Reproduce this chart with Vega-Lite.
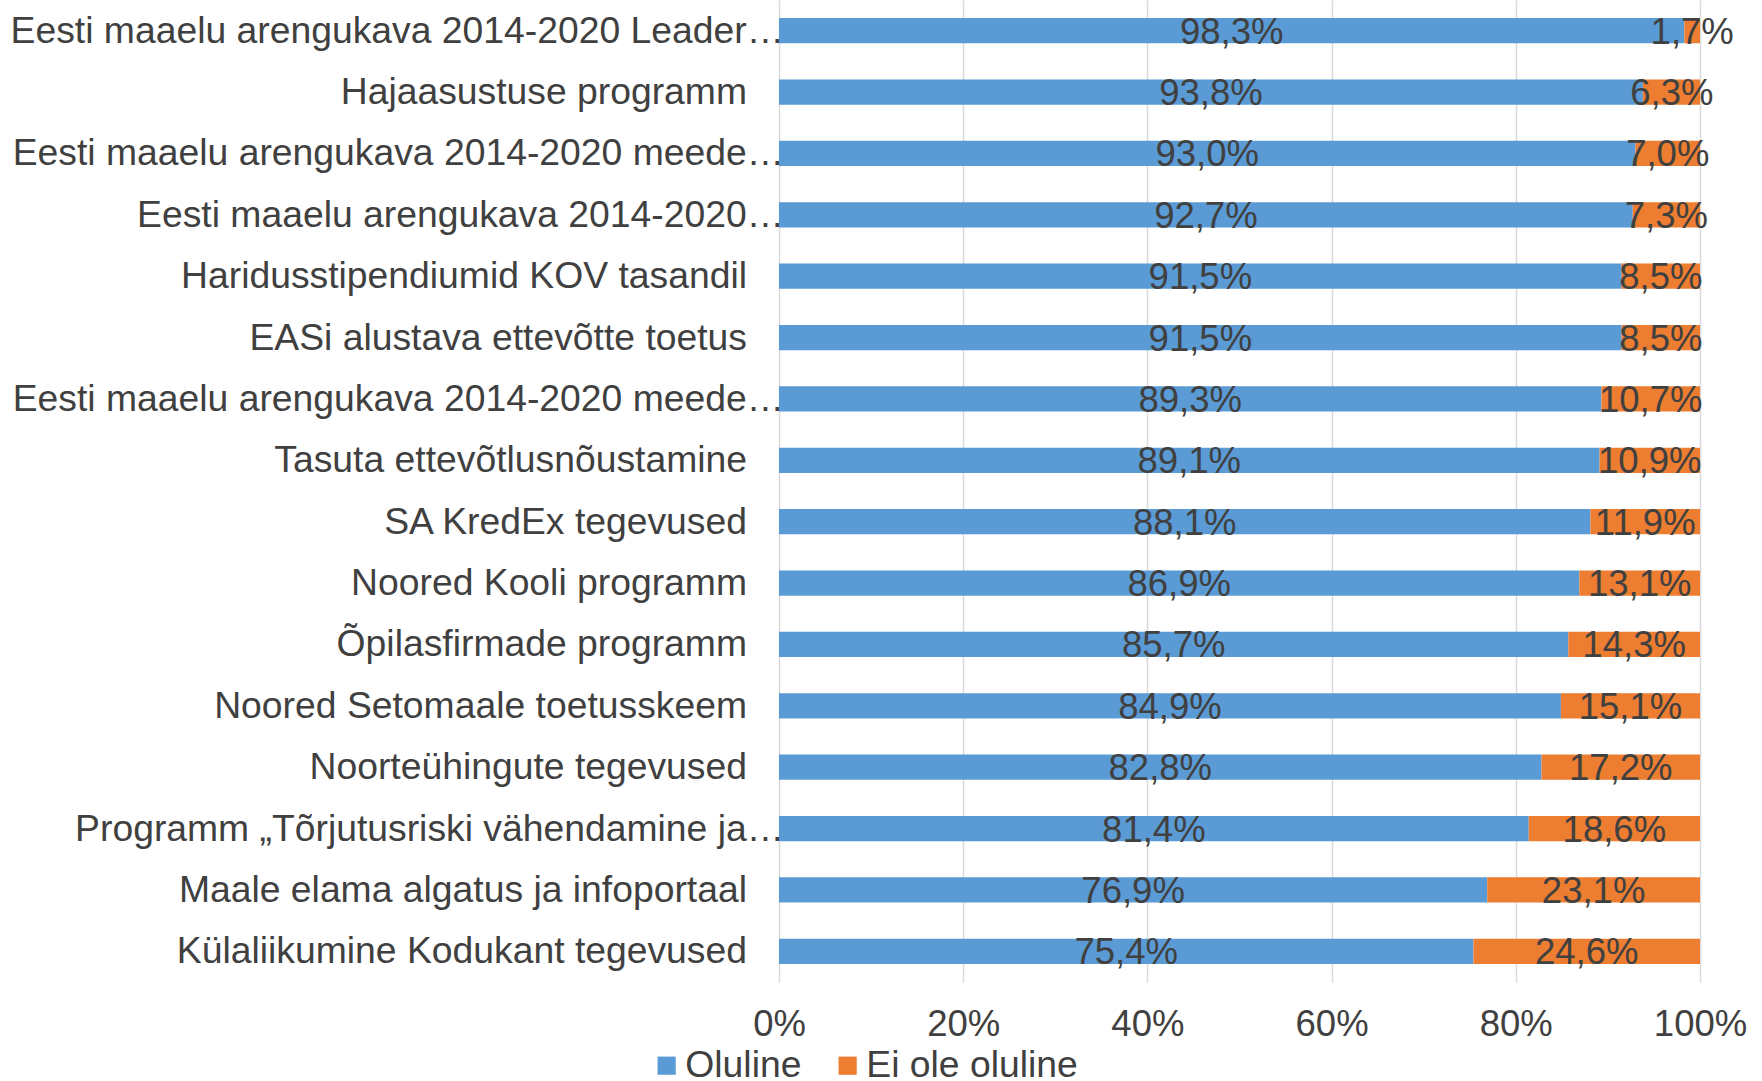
{
  "$schema": "https://vega.github.io/schema/vega-lite/v6.json",
  "autosize": "none",
  "width": 921,
  "height": 982,
  "padding": {"left": 779, "top": 0, "right": 62, "bottom": 99},
  "background": "white",
  "config": {
    "locale": {"number": {"decimal": ",", "thousands": " ", "grouping": [3], "currency": ["", " €"]}},
    "font": "Liberation Sans",
    "view": {"stroke": null},
    "axis": {"labelFont": "Liberation Sans", "labelColor": "#404040", "labelFontSize": 36.5}
  },
  "data": {
    "values": [
      {"label": "Eesti maaelu arengukava 2014-2020 Leader…", "series": "Oluline", "value": 0.983},
      {"label": "Eesti maaelu arengukava 2014-2020 Leader…", "series": "Ei ole oluline", "value": 0.017},
      {"label": "Hajaasustuse programm", "series": "Oluline", "value": 0.938},
      {"label": "Hajaasustuse programm", "series": "Ei ole oluline", "value": 0.063},
      {"label": "Eesti maaelu arengukava 2014-2020 meede…", "series": "Oluline", "value": 0.930},
      {"label": "Eesti maaelu arengukava 2014-2020 meede…", "series": "Ei ole oluline", "value": 0.070},
      {"label": "Eesti maaelu arengukava 2014-2020…", "series": "Oluline", "value": 0.927},
      {"label": "Eesti maaelu arengukava 2014-2020…", "series": "Ei ole oluline", "value": 0.073},
      {"label": "Haridusstipendiumid KOV tasandil", "series": "Oluline", "value": 0.915},
      {"label": "Haridusstipendiumid KOV tasandil", "series": "Ei ole oluline", "value": 0.085},
      {"label": "EASi alustava ettevõtte toetus", "series": "Oluline", "value": 0.915},
      {"label": "EASi alustava ettevõtte toetus", "series": "Ei ole oluline", "value": 0.085},
      {"label": "Eesti maaelu arengukava 2014-2020 meede…\u200b", "series": "Oluline", "value": 0.893},
      {"label": "Eesti maaelu arengukava 2014-2020 meede…\u200b", "series": "Ei ole oluline", "value": 0.107},
      {"label": "Tasuta ettevõtlusnõustamine", "series": "Oluline", "value": 0.891},
      {"label": "Tasuta ettevõtlusnõustamine", "series": "Ei ole oluline", "value": 0.109},
      {"label": "SA KredEx tegevused", "series": "Oluline", "value": 0.881},
      {"label": "SA KredEx tegevused", "series": "Ei ole oluline", "value": 0.119},
      {"label": "Noored Kooli programm", "series": "Oluline", "value": 0.869},
      {"label": "Noored Kooli programm", "series": "Ei ole oluline", "value": 0.131},
      {"label": "Õpilasfirmade programm", "series": "Oluline", "value": 0.857},
      {"label": "Õpilasfirmade programm", "series": "Ei ole oluline", "value": 0.143},
      {"label": "Noored Setomaale toetusskeem", "series": "Oluline", "value": 0.849},
      {"label": "Noored Setomaale toetusskeem", "series": "Ei ole oluline", "value": 0.151},
      {"label": "Noorteühingute tegevused", "series": "Oluline", "value": 0.828},
      {"label": "Noorteühingute tegevused", "series": "Ei ole oluline", "value": 0.172},
      {"label": "Programm „Tõrjutusriski vähendamine ja…", "series": "Oluline", "value": 0.814},
      {"label": "Programm „Tõrjutusriski vähendamine ja…", "series": "Ei ole oluline", "value": 0.186},
      {"label": "Maale elama algatus ja infoportaal", "series": "Oluline", "value": 0.769},
      {"label": "Maale elama algatus ja infoportaal", "series": "Ei ole oluline", "value": 0.231},
      {"label": "Külaliikumine Kodukant tegevused", "series": "Oluline", "value": 0.754},
      {"label": "Külaliikumine Kodukant tegevused", "series": "Ei ole oluline", "value": 0.246}
    ]
  },
  "transform": [
    {"stack": "value", "groupby": ["label"], "sort": [{"field": "series", "order": "descending"}], "as": ["v0", "v1"]},
    {"calculate": "(datum.v0 + datum.v1) / 2", "as": "mid"}
  ],
  "encoding": {
    "y": {
      "field": "label",
      "type": "nominal",
      "sort": null,
      "scale": {"paddingInner": 0.59, "paddingOuter": 0.295},
      "axis": null
    }
  },
  "layer": [
    {
      "mark": {"type": "bar"},
      "encoding": {
        "x": {
          "field": "v0",
          "type": "quantitative",
          "scale": {"domain": [0, 1], "clamp": true, "nice": false},
          "axis": {
            "title": null,
            "format": ".0%",
            "values": [0, 0.2, 0.4, 0.6, 0.8, 1],
            "grid": true,
            "gridColor": "#D9D9D9",
            "gridWidth": 1.5,
            "ticks": false,
            "domain": false,
            "labelPadding": 24,
            "labelFlush": false
          }
        },
        "x2": {"field": "v1"},
        "color": {
          "field": "series",
          "type": "nominal",
          "scale": {"domain": ["Oluline", "Ei ole oluline"], "range": ["#5B9BD5", "#ED7D31"]},
          "legend": {
            "title": null,
            "orient": "none",
            "direction": "horizontal",
            "legendX": -131,
            "legendY": 1047,
            "padding": 0,
            "symbolType": "square",
            "symbolSize": 330,
            "symbolStrokeWidth": 0,
            "labelFontSize": 37.3,
            "labelColor": "#404040",
            "labelFont": "Liberation Sans",
            "labelOffset": 0,
            "columnPadding": 27,
            "labelLimit": 400
          }
        }
      }
    },
    {
      "mark": {"type": "text", "fontSize": 36.5, "color": "#404040", "font": "Liberation Sans", "baseline": "middle", "align": "center", "dy": 2},
      "encoding": {
        "x": {"field": "mid", "type": "quantitative"},
        "text": {"field": "value", "type": "quantitative", "format": ".1%"}
      }
    },
    {
      "transform": [
        {"filter": "datum.series == 'Oluline'"},
        {"filter": "indexof(datum.label, '…') < 0"}
      ],
      "mark": {"type": "text", "fontSize": 37.3, "color": "#404040", "font": "Liberation Sans", "baseline": "middle", "align": "right", "dx": -32, "dy": 1},
      "encoding": {
        "x": {"datum": 0, "type": "quantitative"},
        "text": {"field": "label"}
      }
    },
    {
      "transform": [
        {"filter": "datum.series == 'Oluline'"},
        {"filter": "indexof(datum.label, '…') >= 0"}
      ],
      "mark": {"type": "text", "fontSize": 37.3, "color": "#404040", "font": "Liberation Sans", "baseline": "middle", "align": "right", "dx": 5, "dy": 1},
      "encoding": {
        "x": {"datum": 0, "type": "quantitative"},
        "text": {"field": "label"}
      }
    }
  ]
}
